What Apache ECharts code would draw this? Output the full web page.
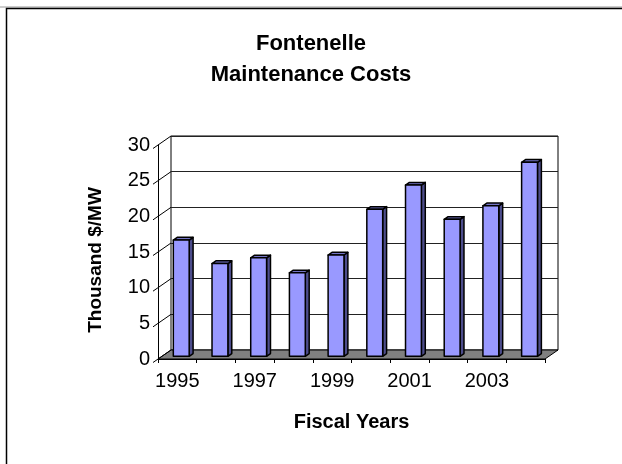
<!DOCTYPE html>
<html><head><meta charset="utf-8">
<script src="https://cdn.jsdelivr.net/npm/echarts@6/dist/echarts.min.js"></script>
<style>html,body{margin:0;padding:0;background:#fff}#c{width:622px;height:464px}</style>
</head><body><div id="c"></div>
<script>
const categories = ['1995','1996','1997','1998','1999','2000','2001','2002','2003','2004'];
const costs = [16.3, 13.0, 13.8, 11.7, 14.2, 20.6, 24.0, 19.2, 21.1, 27.2];
const valueTicks = [0, 5, 10, 15, 20, 25, 30];
const titleLines = ['Fontenelle', 'Maintenance Costs'];
const yName = 'Thousand $/MW';
const xName = 'Fiscal Years';

const DX = 13, DY = -9;      // depth vector (front -> back)
const F0 = 0.3, F1 = 0.6;    // bar depth span
const FONT = 'Liberation Sans, Arial, sans-serif';

const chart = echarts.init(document.getElementById('c'), null, {renderer: 'canvas'});

function wallItem(params, api) {
  const band = api.size([1, 0])[0];
  const xl = api.coord([0, 0])[0] - band / 2;
  const xr = api.coord([categories.length - 1, 0])[0] + band / 2;
  const y0 = api.coord([0, 0])[1];
  const children = [];
  children.push({
    type: 'polygon',
    shape: {points: [[xl, y0], [xr, y0], [xr + DX, y0 + DY], [xl + DX, y0 + DY]]},
    style: {fill: '#808080', stroke: '#000', lineWidth: 1}
  });
  valueTicks.forEach(function (v) {
    const y = api.coord([0, v])[1];
    children.push({
      type: 'line',
      shape: {x1: xl - 5, y1: y + 3.5, x2: xl + DX, y2: y + DY},
      style: {stroke: '#000', lineWidth: 1}
    });
  });
  return {type: 'group', children: children};
}

function barItem(params, api) {
  const i = api.value(0), v = api.value(1);
  const band = api.size([1, 0])[0];
  const cx = api.coord([i, 0])[0];
  const w = band * 0.41;
  const yb = api.coord([i, 0])[1] + F0 * DY;
  const yt = api.coord([i, v])[1] + F0 * DY;
  const xl = cx - w / 2 + F0 * DX, xr = cx + w / 2 + F0 * DX;
  const ddx = (F1 - F0) * DX, ddy = (F1 - F0) * DY;
  const st = {stroke: '#000', lineWidth: 1.5, lineJoin: 'round'};
  return {type: 'group', children: [
    {type: 'polygon', shape: {points: [[xr, yt], [xr + ddx, yt + ddy], [xr + ddx, yb + ddy], [xr, yb]]},
     style: Object.assign({fill: '#4d4d8c'}, st)},
    {type: 'polygon', shape: {points: [[xl, yt], [xr, yt], [xr + ddx, yt + ddy], [xl + ddx, yt + ddy]]},
     style: Object.assign({fill: '#7373c4'}, st)},
    {type: 'rect', shape: {x: xl, y: yt, width: xr - xl, height: yb - yt},
     style: Object.assign({fill: '#9999ff'}, st)}
  ]};
}

const option = {
  backgroundColor: '#fff',
  animation: false,
  title: {
    text: titleLines.join('\n'), left: 'center', top: 23,
    textStyle: {fontFamily: FONT, fontSize: 22, fontWeight: 'bold', color: '#000', lineHeight: 31}
  },
  graphic: [
    {type: 'line', shape: {x1: 0, y1: 7, x2: 622, y2: 7}, style: {stroke: '#999', lineWidth: 1}},
    {type: 'rect', shape: {x: 6.5, y: 8.5, width: 700, height: 600}, style: {fill: null, stroke: '#000', lineWidth: 1.5}},
    {type: 'text', x: 96, y: 260, rotation: Math.PI / 2,
     style: {text: yName, textAlign: 'center', textVerticalAlign: 'middle',
             font: 'bold 19px ' + FONT, fill: '#000'}}
  ],
  grid: [
    {left: 158, right: 77, top: 145, bottom: 105},
    {left: 171, right: 64, top: 136, bottom: 114, show: true, backgroundColor: '#fff', borderColor: '#000', borderWidth: 1}
  ],
  xAxis: [
    {type: 'category', gridIndex: 0, data: categories, boundaryGap: true,
     axisLine: {show: true, lineStyle: {color: '#000', width: 1}},
     axisTick: {show: true, length: 4, alignWithLabel: false, interval: 0, lineStyle: {color: '#000'}},
     axisLabel: {interval: 1, margin: 12, color: '#000', fontFamily: FONT, fontSize: 20},
     name: xName, nameLocation: 'middle', nameGap: 53,
     nameTextStyle: {fontFamily: FONT, fontSize: 20, fontWeight: 'bold', color: '#000'}},
    {type: 'category', gridIndex: 1, data: categories, show: false}
  ],
  yAxis: [
    {type: 'value', gridIndex: 0, min: 0, max: 30, interval: 5,
     axisLine: {show: true, lineStyle: {color: '#000', width: 1}},
     axisTick: {show: false}, splitLine: {show: false},
     axisLabel: {margin: 8, color: '#000', fontFamily: FONT, fontSize: 20}},
    {type: 'value', gridIndex: 1, min: 0, max: 30, interval: 5,
     axisLine: {show: false}, axisTick: {show: false}, axisLabel: {show: false},
     splitLine: {show: true, lineStyle: {color: '#222', width: 1}}}
  ],
  series: [
    {type: 'custom', xAxisIndex: 0, yAxisIndex: 0, renderItem: wallItem, data: [[0, 0]], z: 3, silent: true},
    {type: 'custom', xAxisIndex: 0, yAxisIndex: 0, renderItem: barItem,
     data: costs.map(function (v, i) { return [i, v]; }), z: 5}
  ]
};
chart.setOption(option);
</script></body></html>
